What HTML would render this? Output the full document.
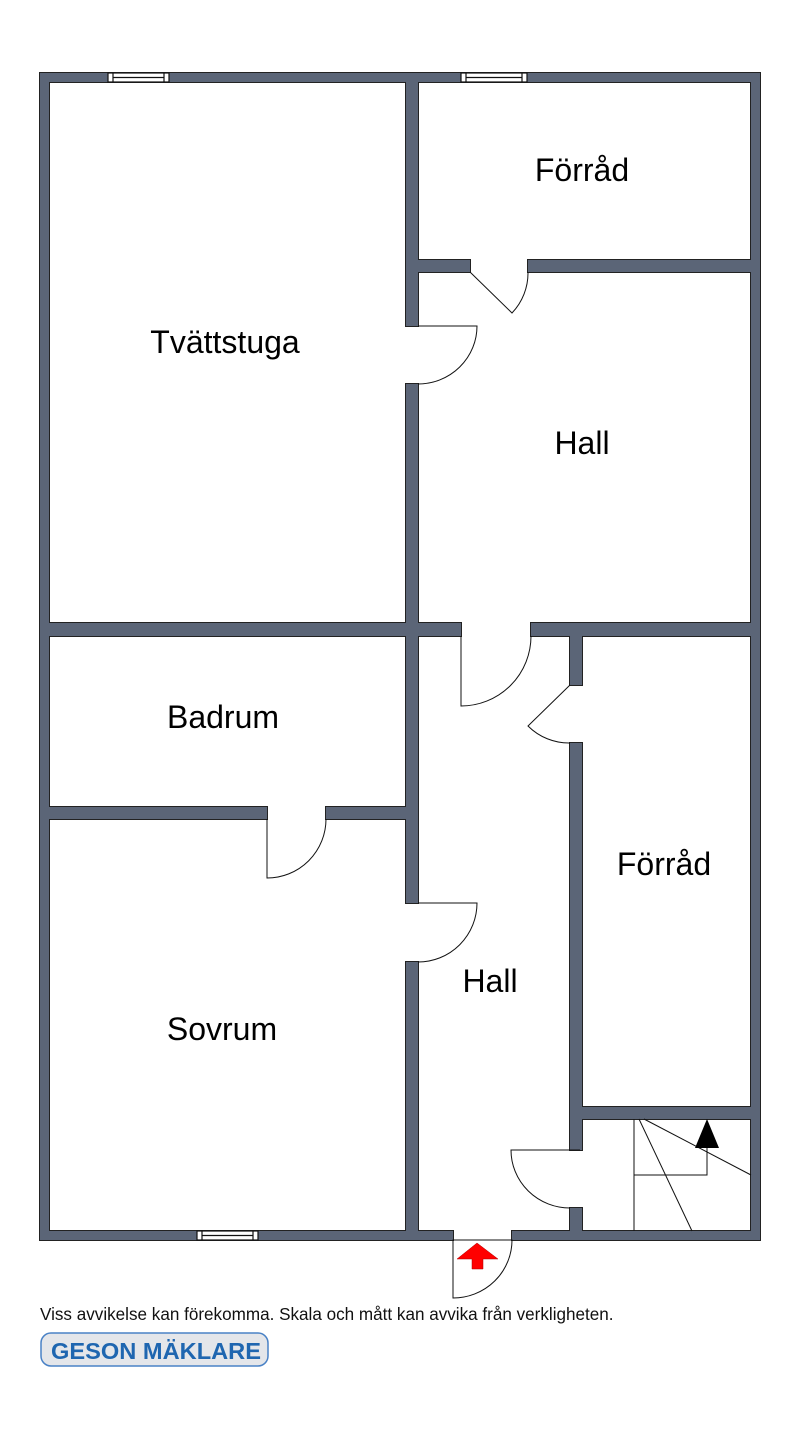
<!DOCTYPE html>
<html><head><style>
body{margin:0;background:#fff;width:800px;height:1439px;overflow:hidden}
svg{display:block}
text{font-family:"Liberation Sans",sans-serif}
</style></head><body>
<svg width="800" height="1439" viewBox="0 0 800 1439">
<defs>
<g id="w">
<rect x="40" y="73" width="720" height="9"/>
<rect x="40" y="1231" width="413" height="9"/>
<rect x="512" y="1231" width="248" height="9"/>
<rect x="40" y="73" width="9" height="1167"/>
<rect x="751" y="73" width="9" height="1167"/>
<rect x="406" y="82" width="12" height="244"/>
<rect x="406" y="384" width="12" height="519"/>
<rect x="406" y="962" width="12" height="269"/>
<rect x="418" y="260" width="52" height="12"/>
<rect x="528" y="260" width="223" height="12"/>
<rect x="49" y="623" width="412" height="13"/>
<rect x="531" y="623" width="220" height="13"/>
<rect x="570" y="636" width="12" height="49"/>
<rect x="570" y="743" width="12" height="407"/>
<rect x="570" y="1208" width="12" height="23"/>
<rect x="49" y="807" width="218" height="12"/>
<rect x="326" y="807" width="80" height="12"/>
<rect x="582" y="1107" width="169" height="12"/>
</g>
</defs>
<use href="#w" fill="#222" stroke="#222" stroke-width="2"/>
<use href="#w" fill="#5b6577"/>
<g fill="#fff" stroke="#111" stroke-width="1.2">
<rect x="108" y="73" width="61" height="9"/><line x1="113" y1="73" x2="113" y2="82"/><line x1="164" y1="73" x2="164" y2="82"/><line x1="113" y1="77.5" x2="164" y2="77.5"/>
<rect x="461" y="73" width="66" height="9"/><line x1="466" y1="73" x2="466" y2="82"/><line x1="522" y1="73" x2="522" y2="82"/><line x1="466" y1="77.5" x2="522" y2="77.5"/>
<rect x="197" y="1231" width="61" height="9"/><line x1="202" y1="1231" x2="202" y2="1240"/><line x1="253" y1="1231" x2="253" y2="1240"/><line x1="202" y1="1235.5" x2="253" y2="1235.5"/>
</g>
<g fill="none" stroke="#111" stroke-width="1">
<path d="M470 272 L512 313 A58 58 0 0 0 528 272"/>
<path d="M418 326 L477 326 A59 58 0 0 1 418 384"/>
<path d="M461 636 L461 706 A70 70 0 0 0 531 636"/>
<path d="M570 685 L528 726 A58 58 0 0 0 570 743"/>
<path d="M267 819 L267 878 A59 59 0 0 0 326 819"/>
<path d="M418 903 L477 903 A59 59 0 0 1 418 962"/>
<path d="M580 1150 L511 1150 A59 58 0 0 0 570 1208"/>
<path d="M453 1240 L453 1298 A59 58 0 0 0 512 1240 Z"/>
<line x1="634" y1="1119" x2="634" y2="1231"/>
<polyline points="634,1175 707,1175 707,1145"/>
<line x1="639" y1="1119" x2="692" y2="1231"/>
<line x1="644" y1="1119" x2="751" y2="1175"/>
</g>
<polygon points="707,1119 695,1148 719,1148" fill="#000"/>
<polygon points="477,1243 457,1259 472,1259 472,1269 483,1269 483,1259 498,1259" fill="#f00" stroke="#a00" stroke-width="0.5"/>
<g font-size="32" text-anchor="middle" fill="#000">
<text x="582" y="181">Förråd</text>
<text x="225" y="353">Tvättstuga</text>
<text x="582" y="454">Hall</text>
<text x="223" y="728">Badrum</text>
<text x="664" y="875">Förråd</text>
<text x="490" y="992">Hall</text>
<text x="222" y="1040">Sovrum</text>
</g>
<text x="40" y="1320" font-size="17.1" fill="#111">Viss avvikelse kan förekomma. Skala och mått kan avvika från verkligheten.</text>
<rect x="41" y="1333" width="227" height="33" rx="10" fill="#e4e6ea" stroke="#4a82c6" stroke-width="1.5"/>
<text x="51" y="1359" font-size="23" font-weight="bold" fill="#1f66b0" textLength="210" lengthAdjust="spacingAndGlyphs">GESON MÄKLARE</text>
</svg>
</body></html>
